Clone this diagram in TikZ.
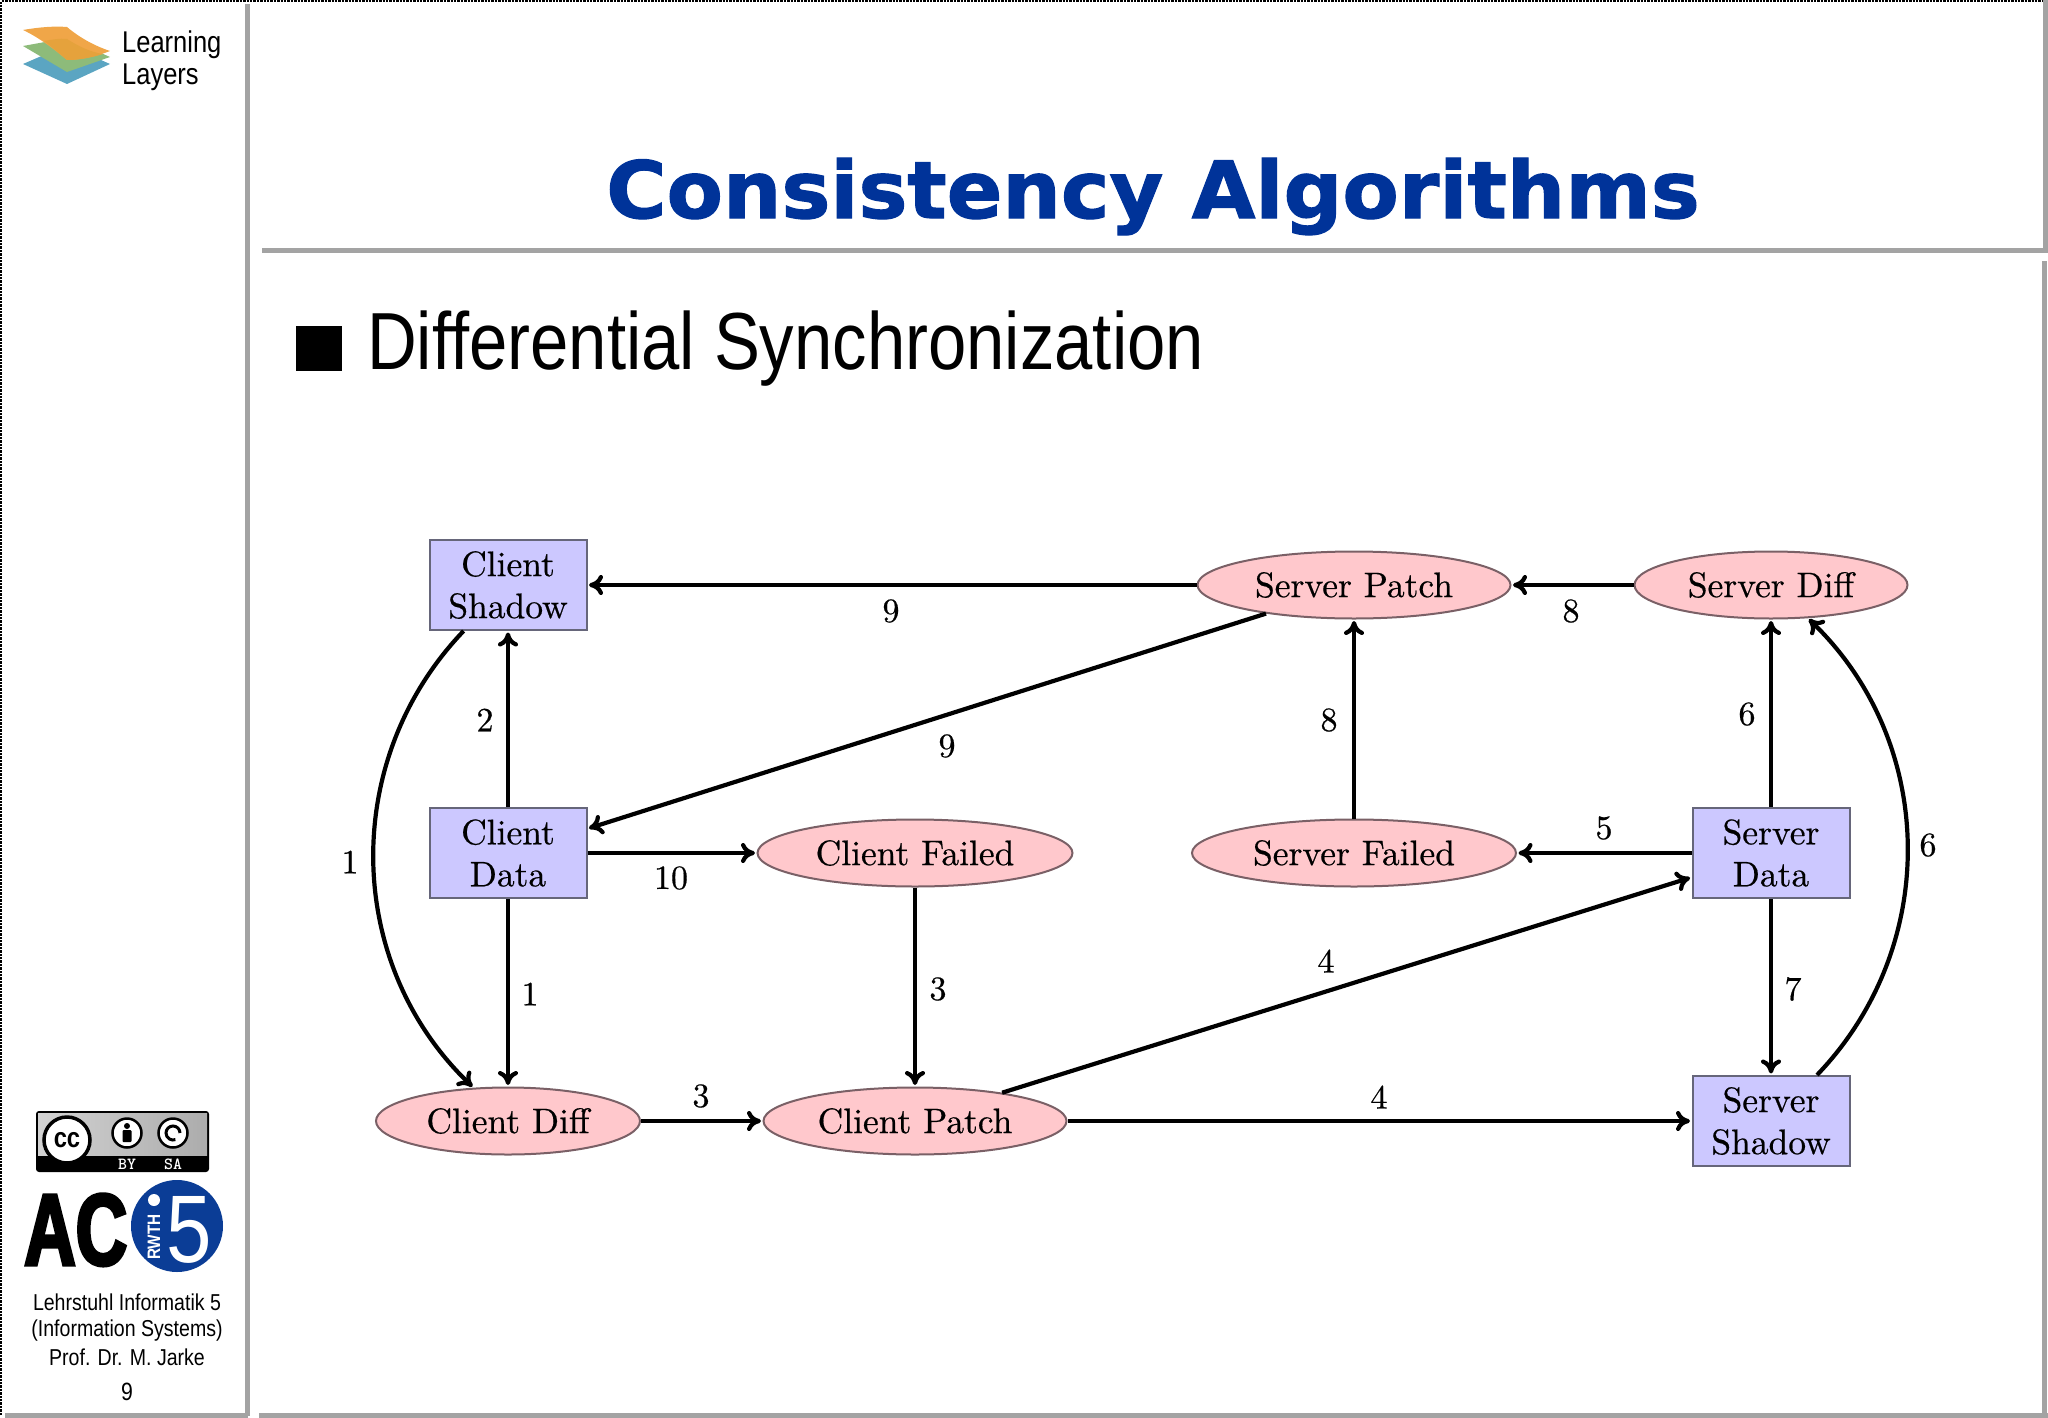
\documentclass[tikz,border=0pt]{standalone}
\usepackage{fontspec}
\newfontfamily\cmfont[FakeBold=0.5]{lmroman10-regular.otf}
\newfontfamily\slidefont[FakeStretch=0.85]{Liberation Sans}
\newfontfamily\acfont[FakeStretch=0.7, BoldFeatures={FakeBold=3}]{Liberation Sans}
\newfontfamily\titlefont[FakeStretch=1.04, BoldFeatures={FakeBold=1.5}]{DejaVu Sans}
\usetikzlibrary{shapes.geometric, arrows.meta}
\definecolor{chrome}{HTML}{A3A3A3}
\definecolor{titleblue}{HTML}{003399}
\definecolor{rwthblue}{HTML}{0B3D96}
\definecolor{boxfill}{HTML}{CCC8FF}
\definecolor{boxline}{HTML}{66667A}
\definecolor{ellfill}{HTML}{FFC8CC}
\definecolor{ellline}{HTML}{7A6066}
\definecolor{layerorange}{HTML}{F0A648}
\definecolor{layerdark}{HTML}{E5A23C}
\definecolor{layergreen}{HTML}{8DBB7A}
\definecolor{layerblue}{HTML}{5BA5C2}
\begin{document}
\begin{tikzpicture}[
    x=1pt, y=-1pt,
    rule/.style={line width=5pt, chrome},
    store/.style={rectangle, draw=boxline, fill=boxfill, line width=2pt, minimum width=157pt, minimum height=90pt, inner sep=0pt, align=center, font=\cmfont\fontsize{35.5}{42}\selectfont},
    doc/.style={ellipse, draw=ellline, fill=ellfill, line width=2pt, minimum height=67pt, inner sep=0pt, font=\cmfont\fontsize{35.5}{42}\selectfont},
    flow/.style={-{Computer Modern Rightarrow[length=14pt, width=20pt]}, line width=4.2pt, black, shorten >=1.5pt},
    flabel/.style={font=\cmfont\fontsize{34}{40}\selectfont, inner sep=0pt},
    sidetext/.style={font=\slidefont\fontsize{23}{27}\selectfont, inner sep=0pt},
    badgeicon/.style={circle, draw=black, fill=white, inner sep=0pt}
]
\useasboundingbox (0,0) rectangle (2048,1418);

% Slide frame
\draw[densely dotted, line width=2.4pt, black] (1.2,1415) -- (1.2,1.2) -- (2048,1.2);
\draw[rule] (247,4) -- (247,1416);
\draw[rule] (5,1415) -- (248,1415);
\draw[rule] (259,1415) -- (2048,1415);
\draw[rule] (262,250) -- (2045,250) -- (2045,0);
\draw[rule] (2044,261) -- (2044,1415);

% Layers logo
\fill[layerblue] (23,64) -- (67,45) -- (110,64) -- (67,84) -- cycle;
\fill[layergreen] (23,46) -- (67,38) -- (110,57) -- (67,72) -- cycle;
\fill[layerorange] (23,30) .. controls (40,27) and (55,26) .. (67,27) .. controls (80,38) and (95,46) .. (110,51) .. controls (95,57) and (80,60) .. (67,60) .. controls (55,50) and (40,38) .. (23,30);
\fill[layerdark] (44,41) .. controls (50,40) and (60,38) .. (67,39) .. controls (78,46) and (90,52) .. (103,54) .. controls (90,58) and (78,60) .. (67,60) .. controls (60,54) and (52,47) .. (44,41);
\node[font=\slidefont\fontsize{30}{32}\selectfont, anchor=west, align=left, inner sep=0pt] (layers) at (122,60.5) {Learning\\Layers};

% Title and bullet
\node[font=\titlefont\bfseries\fontsize{79}{86}\selectfont, text=titleblue, anchor=base, inner sep=0pt] (title) at (1153,218) {Consistency Algorithms};
\fill[black] (296,326) rectangle (342,371);
\node[font=\slidefont\fontsize{81}{90}\selectfont, anchor=base west, inner sep=0pt] (subtitle) at (367,369) {Differential Synchronization};

% Licence badge
\fill[black, rounded corners=3pt] (36,1111) rectangle (209,1172);
\shade[left color=gray!35, right color=gray!65] (38,1113) rectangle (207,1155);
\node[badgeicon, line width=3.5pt, minimum size=46pt, font=\slidefont\bfseries\fontsize{28}{28}\selectfont] (ccmark) at (67,1140) {cc};
\node[badgeicon, line width=2.5pt, minimum size=29pt] (bymark) at (127,1133) {};
\node[badgeicon, line width=2.5pt, minimum size=29pt] (samark) at (173,1133) {};
\fill[black] (127,1126) circle (3pt);
\fill[black, rounded corners=1pt] (122.5,1130) rectangle (131.5,1142);
\draw[black, line width=3pt] (180,1133) arc[start angle=0, end angle=290, radius=7pt];
\node[font=\ttfamily\bfseries\fontsize{17}{17}\selectfont, text=white, inner sep=0pt] (bytext) at (127,1164) {BY};
\node[font=\ttfamily\bfseries\fontsize{17}{17}\selectfont, text=white, inner sep=0pt] (satext) at (173,1164) {SA};

% Chair logo
\node[font=\acfont\bfseries\fontsize{102}{102}\selectfont, anchor=base west, inner sep=0pt] (ac) at (24,1265) {AC};
\node[circle, fill=rwthblue, minimum size=92pt, inner sep=0pt] (seal) at (177,1226) {};
\node[font=\slidefont\fontsize{96}{96}\selectfont, text=white, inner sep=0pt] (five) at (189,1230) {5};
\fill[white] (154,1200) circle (6pt);
\node[font=\slidefont\bfseries\fontsize{18}{18}\selectfont, text=white, rotate=90, inner sep=0pt] (rwth) at (154,1237) {RWTH};

% Chair text
\node[sidetext] (chair1) at (127,1302) {Lehrstuhl Informatik 5};
\node[sidetext] (chair2) at (127,1331) {(Information Systems)};
\node[sidetext] (chair3) at (127,1357) {Prof. Dr. M. Jarke};
\node[sidetext, font=\slidefont\fontsize{25}{27}\selectfont] (pageno) at (127,1392) {9};

% Client side
\node[store] (cshadow) at (508,585) {Client\\Shadow};
\node[store] (cdata) at (508,853) {Client\\Data};
\node[doc, minimum width=264pt] (cdiff) at (508,1121) {Client Diff};
\node[doc, minimum width=303pt] (cpatch) at (915,1121) {Client Patch};
\node[doc, minimum width=315pt] (cfailed) at (915,853) {Client Failed};

% Server side
\node[store] (sshadow) at (1771,1121) {Server\\Shadow};
\node[store] (sdata) at (1771,853) {Server\\Data};
\node[doc, minimum width=273pt] (sdiff) at (1771,585) {Server Diff};
\node[doc, minimum width=313pt] (spatch) at (1354,585) {Server Patch};
\node[doc, minimum width=324pt] (sfailed) at (1354,853) {Server Failed};

% Connectors
\draw[flow] (sdiff) -- (spatch);
\draw[flow] (spatch) -- (cshadow);
\draw[flow] (spatch.198) -- (cdata.17);
\draw[flow] (cdata) -- (cshadow);
\draw[flow] (cdata) -- (cfailed);
\draw[flow] (cdata) -- (cdiff);
\draw[flow] (cshadow.226) to[bend right=45] (cdiff.136);
\draw[flow] (cfailed) -- (cpatch);
\draw[flow] (cdiff) -- (cpatch);
\draw[flow] (cpatch) -- (sshadow);
\draw[flow] (cpatch.18) -- (sdata.197);
\draw[flow] (sdata) -- (sfailed);
\draw[flow] (sfailed) -- (spatch);
\draw[flow] (sdata) -- (sdiff);
\draw[flow] (sdata) -- (sshadow);
\draw[flow] (sshadow.45) to[bend right=45] (sdiff.318);

% Step numbers
\foreach \px/\py/\step in {
    891/611/9, 1571/611/8, 485/720/2, 947/746/9, 1329/720/8, 1747/714/6,
    1928/845/6, 1604/828/5, 350/862/1, 671/878/10, 530/994/1, 938/989/3,
    1326/961/4, 1793/989/7, 701/1096/3, 1379/1097/4} {
    \node[flabel] (n\px) at (\px,\py) {\step};
}
\end{tikzpicture}
\end{document}
